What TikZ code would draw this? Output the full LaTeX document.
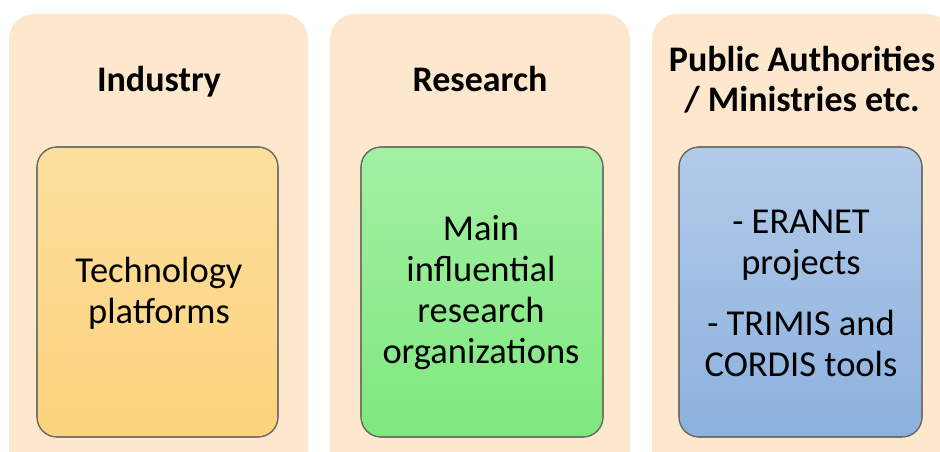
\documentclass[tikz,border=0pt]{standalone}
\usepackage{fontspec}
\setmainfont{Carlito}
\usetikzlibrary{positioning}
\definecolor{panelfill}{RGB}{253,232,206}
\definecolor{orangetop}{RGB}{252,223,158}
\definecolor{orangebot}{RGB}{252,211,124}
\definecolor{greentop}{RGB}{163,240,163}
\definecolor{greenbot}{RGB}{126,232,126}
\definecolor{bluetop}{RGB}{178,203,233}
\definecolor{bluebot}{RGB}{140,177,222}
\definecolor{edgegray}{RGB}{105,105,100}
\tikzset{
  panel/.style={fill=panelfill, draw=none, rounded corners=25pt},
  card/.style={draw=edgegray, line width=1.1pt, rounded corners=20pt},
  heading/.style={font=\fontsize{36}{40}\selectfont\bfseries, align=center, inner sep=0pt},
  body/.style={font=\fontsize{36.5}{41}\selectfont, align=center, inner sep=0pt},
}
\begin{document}
\begin{tikzpicture}[x=1pt,y=-1pt]
\useasboundingbox (0,0) rectangle (940,452);
\fill[white] (0,0) rectangle (940,452);
\begin{scope}
\clip (0,0) rectangle (940,452);
% column panels
\path[panel] (9,14) rectangle (308,480);
\path[panel] (330,14) rectangle (630,480);
\path[panel] (652,14) rectangle (952,480);
% inner cards with vertical shading
\shade[card, top color=orangetop, bottom color=orangebot] (37,147) rectangle (278,437);
\shade[card, top color=greentop, bottom color=greenbot] (361,147) rectangle (603,437);
\shade[card, top color=bluetop, bottom color=bluebot] (679,147) rectangle (922,437);
\draw[card] (37,147) rectangle (278,437);
\draw[card] (361,147) rectangle (603,437);
\draw[card] (679,147) rectangle (922,437);
\end{scope}
% headings
\node[heading, anchor=base] (hind) at (159,92) {Industry};
\node[heading, anchor=base] (hres) at (480,92) {Research};
\node[heading, anchor=base] (hpub1) at (802,72) {Public Authorities};
\node[heading, anchor=base] (hpub2) at (802,111) {/ Ministries etc.};
% card texts
\node[body] (tind) at (159,293) {Technology\\platforms};
\node[body] (tres) at (481,293) {Main\\influential\\research\\organizations};
\node[body] (tpub) at (801,293) {- ERANET\\projects\\[20pt]- TRIMIS and\\CORDIS tools};
\end{tikzpicture}
\end{document}
